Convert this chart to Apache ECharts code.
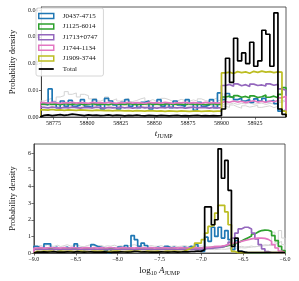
<!DOCTYPE html>
<html><head><meta charset="utf-8">
<script src="https://cdn.jsdelivr.net/npm/echarts@6/dist/echarts.min.js"></script>
<style>html,body{margin:0;padding:0;background:#fff}#c{width:299px;height:281px}</style>
</head><body><div id="c"></div>
<script>
// ---------- data ----------
const seriesNames = ['J0437-4715','J1125-6014','J1713+0747','J1744-1134','J1909-3744','Total'];
const seriesColors = ['#1f77b4','#2ca02c','#9467bd','#e377c2','#bcbd22','#000000'];

// Top panel: t_JUMP histograms, bins of 3 days starting at 58765
const tStart = 58765, tBin = 3;
const tXTicks = [58775,58800,58825,58850,58875,58900,58925];
const tYTicks = [0,0.01,0.02,0.03,0.04];
const tBlue = [0.005,0.0045,0.0105,0.0055,0.0035,0.006,0.004,0.0062,0.004,0.0045,0.0065,0.004,0.0035,0.0065,0.0045,0.003,0.007,0.006,0.0045,0.003,0.0055,0.0065,0.004,0.005,0.0035,0.0055,0.006,0.003,0.005,0.0065,0.004,0.005,0.0035,0.006,0.0045,0.004,0.0065,0.005,0.0025,0.0055,0.004,0.0045,0.0065,0.0035,0.009,
  0.0065,0.0088,0.0075,0.0065,0.007,0.006,0.0065,0.0055,0.0068,0.006,0.007,0.0058,0.0062,0.005,0.0022,0.0025];
const tGreen = [0.0048,0.005,0.0047,0.0049,0.0046,0.005,0.0048,0.0047,0.005,0.0049,0.0046,0.0048,0.005,0.0047,0.0049,0.0048,0.0046,0.005,0.0048,0.0049,0.0047,0.005,0.0048,0.0046,0.0049,0.0048,0.005,0.0047,0.0049,0.0046,0.0048,0.005,0.0047,0.0049,0.0048,0.0046,0.005,0.0048,0.0047,0.0049,0.0046,0.0048,0.005,0.0047,0.0049,
  0.0075,0.0078,0.0072,0.008,0.0074,0.0077,0.0071,0.0079,0.0073,0.0076,0.0082,0.0074,0.0078,0.0072,0.0085,0.011];
const tPurple = [0.0036,0.0034,0.0037,0.0035,0.0033,0.0036,0.0034,0.0037,0.0035,0.0033,0.0036,0.0035,0.0034,0.0037,0.0035,0.0033,0.0036,0.0034,0.0035,0.0037,0.0034,0.0036,0.0033,0.0035,0.0037,0.0034,0.0036,0.0035,0.0033,0.0036,0.0034,0.0037,0.0035,0.0034,0.0036,0.0033,0.0035,0.0037,0.0034,0.0036,0.0035,0.0033,0.0036,0.0034,0.0035,
  0.0118,0.0122,0.0115,0.0124,0.0117,0.0121,0.0114,0.0123,0.0118,0.012,0.0116,0.0124,0.0119,0.0122,0.0105,0.010];
const tPink = [0.0054,0.0052,0.0055,0.0053,0.0051,0.0054,0.0053,0.0055,0.0052,0.0054,0.0053,0.0051,0.0055,0.0053,0.0054,0.0052,0.0055,0.0053,0.0051,0.0054,0.0053,0.0055,0.0052,0.0054,0.0053,0.0051,0.0055,0.0053,0.0054,0.0052,0.0055,0.0053,0.0051,0.0054,0.0053,0.0055,0.0052,0.0054,0.0053,0.0051,0.0055,0.0053,0.0054,0.0052,0.0054,
  0.0058,0.0055,0.006,0.0056,0.0059,0.0054,0.0058,0.0061,0.0056,0.0059,0.0055,0.006,0.0057,0.0062,0.0072,0.0078];
const tYellow = [0.0027,0.0026,0.0028,0.0026,0.0027,0.0025,0.0027,0.0026,0.0025,0.0027,0.0026,0.0025,0.0024,0.0026,0.0025,0.0024,0.0025,0.0023,0.0025,0.0024,0.0023,0.0024,0.0022,0.0024,0.0023,0.0022,0.0024,0.0023,0.0022,0.0023,0.0021,0.0023,0.0022,0.0021,0.0023,0.0022,0.0021,0.0022,0.0023,0.0021,0.0022,0.0023,0.0021,0.0022,0.0022,
  0.0165,0.0168,0.0163,0.017,0.0166,0.0169,0.0164,0.0171,0.0167,0.0172,0.0168,0.017,0.0166,0.0169,0.0168,0.0022];
const tTotal = [0.0006,0.0008,0.0005,0.0007,0.0009,0.0006,0.0008,0.0011,0.0009,0.0007,0.0005,0.0008,0.0006,0.0007,0.0005,0.0006,0.0008,0.0005,0.0007,0.0006,0.0004,0.0006,0.0005,0.0007,0.0005,0.0004,0.0006,0.0005,0.0004,0.0006,0.0005,0.0004,0.0005,0.0006,0.0004,0.0005,0.0004,0.0005,0.0006,0.0004,0.0005,0.0004,0.0005,0.0004,0.0005,
  0.003,0.022,0.013,0.0295,0.021,0.024,0.020,0.028,0.019,0.021,0.0325,0.031,0.019,0.039,0.003,0.001];
const tGray1 = [0.006,0.0065,0.007,0.006,0.0075,0.008,0.0095,0.0085,0.009,0.0075,0.0085,0.008,0.0068,0.007,0.006,0.0065,0.0075,0.0062,0.0068,0.006,0.0065,0.007,0.0058,0.0062,0.0068,0.0072,0.006,0.0065,0.0058,0.0062,0.007,0.0065,0.0058,0.006,0.0066,0.0062,0.0058,0.0064,0.006,0.0068,0.0062,0.0058,0.0065,0.0072,0.0062,
  0.004,0.0036,0.0045,0.0038,0.0033,0.0042,0.0037,0.004,0.0044,0.0036,0.0039,0.0042,0.0035,0.004,0.0055,0.006];
const tGray2 = [0.0042,0.0045,0.004,0.0044,0.0047,0.0043,0.0041,0.0046,0.0044,0.004,0.0043,0.0045,0.0042,0.0044,0.0041,0.0046,0.0043,0.004,0.0044,0.0042,0.0045,0.0041,0.0043,0.0046,0.0042,0.004,0.0044,0.0043,0.0041,0.0045,0.0042,0.0044,0.004,0.0043,0.0046,0.0042,0.0041,0.0044,0.0043,0.0045,0.0041,0.0043,0.0042,0.0044,0.0043,
  0.005,0.0048,0.0052,0.0047,0.0051,0.0049,0.0053,0.0048,0.005,0.0052,0.0047,0.0051,0.0049,0.005,0.006,0.0065];

// Bottom panel: log10 A_JUMP histograms, bins of 0.04 starting at -9
const aStart = -9, aBin = 0.04;
const aYTicks = [0,1,2,3,4,5,6];
const aBlue = [0.4,0.3,0.3,0.55,0.55,0.3,0.35,0.2,0.3,0.35,0.25,0.3,0.55,0.3,0.2,0.25,0.3,0.5,0.4,0.35,
  0.3,0.15,0.0,0.3,0.2,0.35,0.3,0.45,0.3,1.05,0.8,0.4,0.6,0.45,0.3,0.25,0.35,0.3,0.25,0.4,
  0.3,0.35,0.25,0.3,0.35,0.3,0.4,0.35,0.5,0.3,0.1,0.95,0.7,1.55,1.0,1.55,0.9,1.35,0.8,0.2,
  0.75,0.1,0.05,0,0,0,0,0,0,0,0,0,0,0,0];
const aGreen = [0.24,0.26,0.25,0.23,0.26,0.24,0.25,0.27,0.24,0.25,0.23,0.26,0.25,0.24,0.26,0.25,0.23,0.25,0.26,0.24,
  0.25,0.27,0.24,0.25,0.23,0.26,0.25,0.24,0.26,0.25,0.24,0.26,0.25,0.23,0.25,0.26,0.24,0.25,0.26,0.24,
  0.25,0.23,0.26,0.25,0.24,0.25,0.25,0.27,0.27,0.28,0.3,0.3,0.32,0.33,0.35,0.36,0.4,0.45,0.5,0.55,
  0.62,0.72,0.82,0.92,1.02,1.15,1.27,1.35,1.38,1.37,1.3,1.05,0.75,0.4,0.15];
const aPurple = [0.22,0.21,0.23,0.22,0.2,0.22,0.23,0.21,0.22,0.2,0.22,0.23,0.21,0.22,0.22,0.2,0.23,0.21,0.22,0.23,
  0.21,0.22,0.2,0.22,0.23,0.21,0.22,0.22,0.2,0.23,0.22,0.21,0.22,0.23,0.2,0.22,0.21,0.23,0.22,0.21,
  0.22,0.2,0.23,0.22,0.21,0.22,0.23,0.22,0.21,0.23,0.25,0.27,0.28,0.3,0.32,0.35,0.4,0.5,0.65,0.9,
  1.2,1.45,1.55,1.55,1.45,1.2,0.85,0.5,0.25,0.08,0.01,0.01,0,0,0];
const aPink = [0.3,0.32,0.29,0.31,0.33,0.3,0.31,0.29,0.32,0.3,0.31,0.33,0.3,0.29,0.31,0.32,0.3,0.31,0.29,0.32,
  0.3,0.31,0.33,0.3,0.29,0.31,0.32,0.3,0.31,0.29,0.32,0.3,0.31,0.3,0.32,0.29,0.31,0.3,0.32,0.31,
  0.3,0.31,0.29,0.32,0.3,0.31,0.3,0.32,0.31,0.3,0.32,0.33,0.35,0.38,0.4,0.42,0.45,0.5,0.55,0.6,
  0.65,0.7,0.75,0.8,0.85,0.88,0.9,0.9,0.88,0.82,0.7,0.5,0.3,0.12,0.03];
const aYellow = [0.1,0.09,0.11,0.1,0.12,0.1,0.09,0.11,0.1,0.1,0.12,0.09,0.1,0.11,0.1,0.09,0.1,0.12,0.1,0.11,
  0.1,0.09,0.1,0.11,0.12,0.1,0.09,0.1,0.11,0.1,0.12,0.1,0.09,0.11,0.1,0.1,0.11,0.09,0.1,0.12,
  0.1,0.11,0.1,0.09,0.12,0.2,0.3,0.4,0.6,0.6,0.8,1.2,1.6,1.7,2.4,2.87,2.87,2.47,1.7,0.1,
  0.02,0.02,0.02,0.02,0.02,0.02,0.02,0.02,0.02,0.02,0.02,0.02,0.02,0.02,0.02];
const aTotal = [0.06,0.05,0.07,0.05,0.06,0.08,0.05,0.06,0.05,0.07,0.06,0.05,0.08,0.06,0.05,0.06,0.07,0.05,0.06,0.05,
  0.07,0.05,0.04,0.06,0.05,0.07,0.06,0.05,0.06,0.1,0.09,0.06,0.07,0.06,0.05,0.06,0.05,0.07,0.06,0.05,
  0.06,0.07,0.05,0.06,0.08,0.07,0.09,0.1,0.12,0.1,0.2,2.77,2.77,1.7,2.0,6.27,4.5,5.57,3.77,0.4,
  0.9,0.1,0.05,0.03,0.03,0.03,0.03,0.03,0.03,0.03,0.03,0.03,0.03,0.03,0.03];
const aGray1 = [0.4,0.45,0.38,0.5,0.42,0.4,0.47,0.39,0.44,0.5,0.41,0.43,0.48,0.4,0.38,0.45,0.5,0.42,0.4,0.46,
  0.39,0.43,0.41,0.47,0.4,0.44,0.38,0.42,0.46,0.5,0.44,0.4,0.43,0.39,0.45,0.41,0.4,0.44,0.38,0.42,
  0.4,0.43,0.39,0.41,0.44,0.4,0.42,0.38,0.4,0.43,0.38,0.4,0.37,0.41,0.39,0.36,0.4,0.38,0.35,0.39,
  0.37,0.4,0.36,0.38,0.42,0.37,0.4,0.45,0.5,0.48,0.55,1.25,0.6,1.35,0.9];
const aGray2 = [0.22,0.2,0.24,0.21,0.23,0.2,0.22,0.25,0.21,0.2,0.23,0.22,0.2,0.24,0.21,0.22,0.2,0.23,0.21,0.22,
  0.24,0.2,0.22,0.21,0.23,0.2,0.22,0.24,0.21,0.22,0.2,0.23,0.22,0.21,0.2,0.23,0.22,0.21,0.24,0.2,
  0.22,0.21,0.23,0.2,0.22,0.21,0.23,0.22,0.2,0.22,0.21,0.23,0.22,0.2,0.22,0.24,0.22,0.25,0.27,0.28,
  0.3,0.32,0.3,0.33,0.35,0.38,0.4,0.42,0.44,0.45,0.46,0.5,0.6,0.7,0.5];

// ---------- chart ----------
function stepData(start, w, vals) {
  const d = [[start, 0]];
  vals.forEach((v, i) => d.push([+(start + i * w).toFixed(6), v]));
  const end = +(start + vals.length * w).toFixed(6);
  d.push([end, vals[vals.length - 1]]);
  d.push([end, 0]);
  return d;
}
const FONT = 'Liberation Serif';
const chart = echarts.init(document.getElementById('c'), null, {renderer: 'canvas'});

function mk(name, color, vals, start, w, idx, width, z) {
  return {
    name: name, type: 'line', step: 'end', symbol: 'none', showSymbol: false,
    xAxisIndex: idx, yAxisIndex: idx, data: stepData(start, w, vals),
    lineStyle: {color: color, width: width}, itemStyle: {color: color},
    emphasis: {disabled: true}, silent: true, animation: false, z: z, clip: true
  };
}
const topSets = [tBlue, tGreen, tPurple, tPink, tYellow, tTotal];
const botSets = [aBlue, aGreen, aPurple, aPink, aYellow, aTotal];
const series = [];
const gray = '#d4d4d4';
series.push(mk('g1', gray, tGray1, tStart, tBin, 0, 1, 1));
series.push(mk('g2', gray, tGray2, tStart, tBin, 0, 1, 1));
series.push(mk('g1', gray, aGray1, aStart, aBin, 1, 1, 1));
series.push(mk('g2', gray, aGray2, aStart, aBin, 1, 1, 1));
seriesNames.forEach((n, i) => {
  series.push(mk(n, seriesColors[i], topSets[i], tStart, tBin, 0, 1.7, 2 + i));
  series.push(mk(n, seriesColors[i], botSets[i], aStart, aBin, 1, 1.7, 2 + i));
});

const axisCol = '#333';
const lblStyle = {fontFamily: FONT, fontSize: 6, color: '#111'};
const minus = s => s.replace('-', '\u2212');

chart.setOption({
  backgroundColor: '#fff',
  animation: false,
  grid: [
    {left: 33, right: 13, top: 7, height: 110, show: true, borderColor: axisCol, borderWidth: 0.8},
    {left: 33, right: 14, top: 144, height: 109, show: true, borderColor: axisCol, borderWidth: 0.8}
  ],
  legend: {
    data: seriesNames.map((n, i) => i < 5 ? {
      name: n, icon: 'rect',
      itemStyle: {color: 'rgba(255,255,255,0)', borderColor: seriesColors[i], borderWidth: 1.5}
    } : {name: n, icon: 'path://M0,0H20V2.4H0Z', itemStyle: {color: '#000'}}),
    orient: 'vertical', left: 36, top: 8, itemWidth: 15, itemHeight: 5, itemGap: 2.6,
    padding: [4, 6, 3, 2], borderColor: '#ccc', borderWidth: 0.8, borderRadius: 2,
    backgroundColor: 'rgba(255,255,255,0.85)',
    textStyle: {fontFamily: FONT, fontSize: 7, color: '#111', lineHeight: 8, padding: [0, 0, 0, 4]},
    selectedMode: false, inactiveColor: '#000'
  },
  xAxis: [
    {type: 'value', gridIndex: 0, min: 58766, max: 58948,
     axisLine: {show: true, lineStyle: {color: axisCol, width: 0.8}},
     axisTick: {show: true, length: 2.5, lineStyle: {color: axisCol, width: 0.7}, customValues: tXTicks},
     axisLabel: {...lblStyle, margin: 3, customValues: tXTicks, formatter: v => String(v)},
     splitLine: {show: false},
     name: '{i|t}{s|JUMP}', nameLocation: 'middle', nameGap: 11,
     nameTextStyle: {rich: {i: {fontFamily: FONT, fontStyle: 'italic', fontSize: 9, color: '#111'},
                            s: {fontFamily: FONT, fontSize: 6, color: '#111', padding: [5, 0, 0, 0]}}}},
    {type: 'value', gridIndex: 1, min: -9, max: -6, interval: 0.5,
     axisLine: {show: true, lineStyle: {color: axisCol, width: 0.8}},
     axisTick: {show: true, length: 2.5, lineStyle: {color: axisCol, width: 0.7}},
     axisLabel: {...lblStyle, margin: 3, formatter: v => minus(v.toFixed(1))},
     splitLine: {show: false},
     name: '{r|log}{u|10}{i| A}{s|JUMP}', nameLocation: 'middle', nameGap: 12,
     nameTextStyle: {rich: {r: {fontFamily: FONT, fontSize: 9, color: '#111'},
                            u: {fontFamily: FONT, fontSize: 6, color: '#111', padding: [5, 0, 0, 0]},
                            i: {fontFamily: FONT, fontStyle: 'italic', fontSize: 9, color: '#111'},
                            s: {fontFamily: FONT, fontSize: 6, color: '#111', padding: [5, 0, 0, 0]}}}}
  ],
  yAxis: [
    {type: 'value', gridIndex: 0, min: 0, max: 0.0412,
     axisLine: {show: true, lineStyle: {color: axisCol, width: 0.8}},
     axisTick: {show: true, length: 2.5, lineStyle: {color: axisCol, width: 0.7}, customValues: tYTicks},
     axisLabel: {...lblStyle, margin: 3, customValues: tYTicks, formatter: v => v.toFixed(2)},
     splitLine: {show: false},
     name: 'Probability density', nameLocation: 'middle', nameGap: 19,
     nameTextStyle: {fontFamily: FONT, fontSize: 8.5, color: '#111'}},
    {type: 'value', gridIndex: 1, min: 0, max: 6.56,
     axisLine: {show: true, lineStyle: {color: axisCol, width: 0.8}},
     axisTick: {show: true, length: 2.5, lineStyle: {color: axisCol, width: 0.7}, customValues: aYTicks},
     axisLabel: {...lblStyle, margin: 3, customValues: aYTicks, formatter: v => String(v)},
     splitLine: {show: false},
     name: 'Probability density', nameLocation: 'middle', nameGap: 12,
     nameTextStyle: {fontFamily: FONT, fontSize: 8.5, color: '#111'}}
  ],
  series: series
});
</script></body></html>
